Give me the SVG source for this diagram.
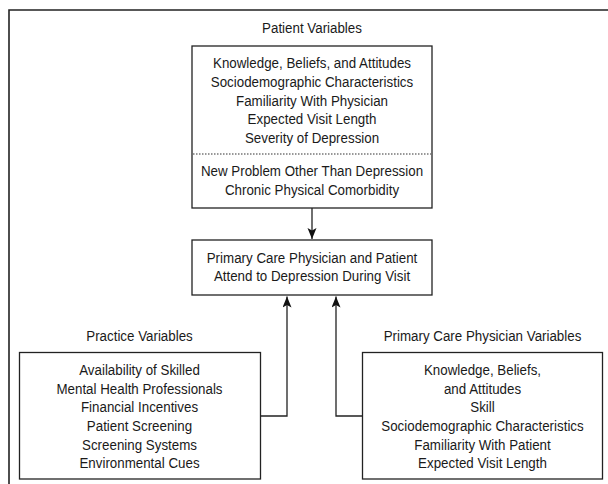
<svg xmlns="http://www.w3.org/2000/svg" width="608" height="484" viewBox="0 0 608 484">
<style>
text{font-family:"Liberation Sans",Arial,sans-serif;font-size:15px;fill:#1a1a1a;text-anchor:middle}
.box{fill:#fff;stroke:#222;stroke-width:1.3}
.frame{stroke:#222;stroke-width:1.6;fill:none}
.conn{stroke:#222;stroke-width:1.3;fill:none}
.dot{stroke:#333;stroke-width:1.1;stroke-dasharray:1.5 1.5}
</style>
<defs>
<marker id="ah" markerUnits="userSpaceOnUse" markerWidth="12" markerHeight="10" refX="11" refY="4.5" orient="auto">
<path d="M0,0 L11,4.5 L0,9 L2.5,4.5 z" fill="#111"/>
</marker>
</defs>
<g id="frame">
<path class="frame" d="M9,484 V10 H608"/>
</g>
<g id="patient">
<rect class="box" x="192" y="46" width="240" height="162"/>
<line class="dot" x1="193" y1="154" x2="431" y2="154"/>
<g transform="translate(312,0) scale(0.89,1)">
<text x="0" y="33">Patient Variables</text>
<text x="0" y="68">Knowledge, Beliefs, and Attitudes</text>
<text x="0" y="87">Sociodemographic Characteristics</text>
<text x="0" y="106">Familiarity With Physician</text>
<text x="0" y="124.5">Expected Visit Length</text>
<text x="0" y="143">Severity of Depression</text>
<text x="0" y="176">New Problem Other Than Depression</text>
<text x="0" y="195">Chronic Physical Comorbidity</text>
</g>
</g>
<g id="outcome">
<rect class="box" x="192" y="240" width="240" height="55"/>
<g transform="translate(312,0) scale(0.89,1)">
<text x="0" y="263">Primary Care Physician and Patient</text>
<text x="0" y="281.5">Attend to Depression During Visit</text>
</g>
</g>
<g id="practice">
<rect class="box" x="19.5" y="352.5" width="241" height="126.5"/>
<g transform="translate(139.5,0) scale(0.89,1)">
<text x="0" y="341.5">Practice Variables</text>
<text x="0" y="375">Availability of Skilled</text>
<text x="0" y="394">Mental Health Professionals</text>
<text x="0" y="412.5">Financial Incentives</text>
<text x="0" y="431">Patient Screening</text>
<text x="0" y="450">Screening Systems</text>
<text x="0" y="468.5">Environmental Cues</text>
</g>
</g>
<g id="physician">
<rect class="box" x="362.5" y="352.5" width="240" height="126.5"/>
<g transform="translate(482.5,0) scale(0.89,1)">
<text x="0" y="341.5">Primary Care Physician Variables</text>
<text x="0" y="375">Knowledge, Beliefs,</text>
<text x="0" y="394">and Attitudes</text>
<text x="0" y="412.5">Skill</text>
<text x="0" y="431">Sociodemographic Characteristics</text>
<text x="0" y="450">Familiarity With Patient</text>
<text x="0" y="468.5">Expected Visit Length</text>
</g>
</g>
<g id="connectors">
<path class="conn" d="M312,208 V239" marker-end="url(#ah)"/>
<path class="conn" d="M260.5,416 H287 V296.5" marker-end="url(#ah)"/>
<path class="conn" d="M362.5,416 H336 V296.5" marker-end="url(#ah)"/>
</g>
</svg>
